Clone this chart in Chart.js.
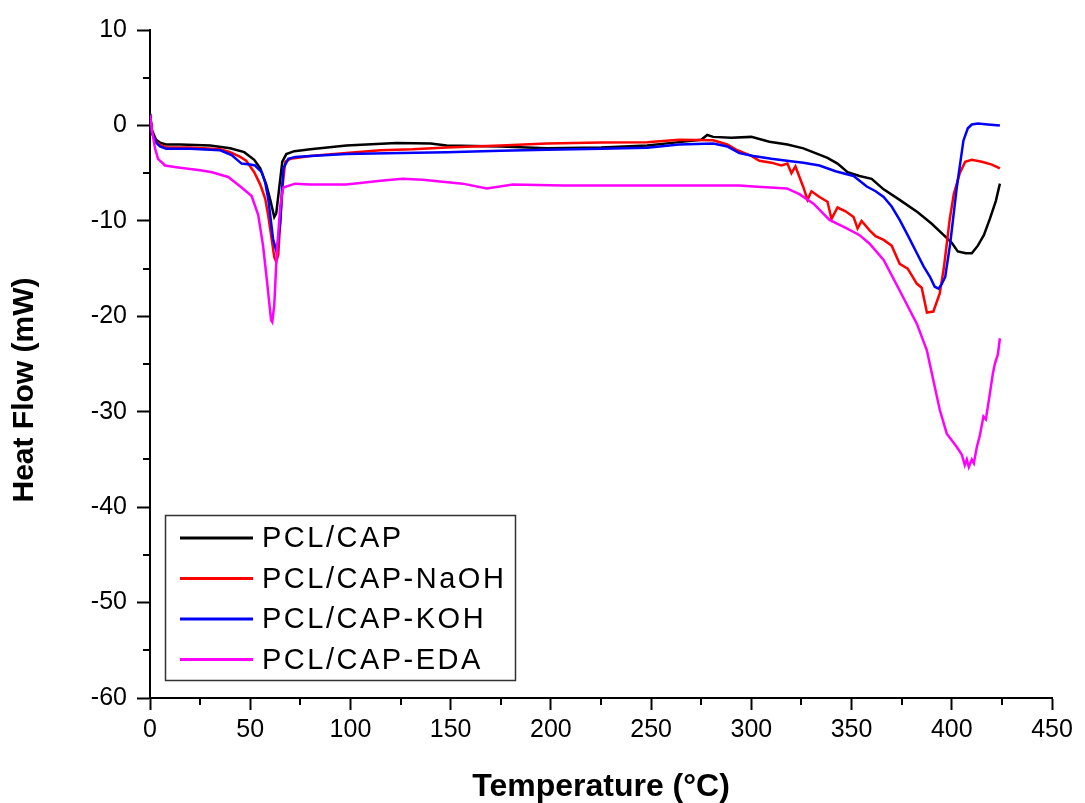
<!DOCTYPE html>
<html>
<head>
<meta charset="utf-8">
<script src="https://cdn.jsdelivr.net/npm/chart.js@4/dist/chart.umd.min.js"></script>
<style>
  html, body { margin: 0; padding: 0; background: #ffffff; }
  #c { display: block; }
</style>
</head>
<body>
<canvas id="c" width="1085" height="803"></canvas>
<script>
// ---- Data: [temperature (°C), heat flow (mW)] ----
const seriesNames = ['PCL/CAP', 'PCL/CAP-NaOH', 'PCL/CAP-KOH', 'PCL/CAP-EDA'];
const seriesColors = ['#000000', '#ff0000', '#0000ff', '#ff00ff'];

const pclCap = [
  [0,1.2],[1,-0.5],[3,-1.5],[5,-1.8],[8,-2.0],[15,-2.0],[30,-2.1],[40,-2.4],[47,-2.8],[52,-3.6],
  [55,-4.5],[58,-6.2],[60,-7.8],[62,-9.6],[63,-9.2],[64.5,-6.5],[66,-3.8],[68,-3.0],[72,-2.7],[80,-2.5],
  [98,-2.1],[123,-1.85],[140,-1.9],[148,-2.1],[175,-2.2],[198,-2.4],[225,-2.3],[248,-2.1],[264,-1.75],[275,-1.5],
  [278,-1.0],[281,-1.2],[290,-1.3],[300,-1.2],[309,-1.7],[318,-2.0],[326,-2.4],[332,-2.9],[338,-3.4],[343,-4.0],
  [348,-4.9],[354,-5.3],[360,-5.6],[366,-6.7],[374,-7.8],[383,-9.1],[390,-10.3],[396,-11.5],[400,-12.3],[403,-13.2],
  [407,-13.4],[410,-13.4],[413,-12.6],[416,-11.5],[419,-9.8],[422,-7.9],[424,-6.1]
];

const pclCapNaOH = [
  [0,1.2],[1,-0.8],[3,-1.7],[5,-2.0],[8,-2.3],[20,-2.3],[35,-2.5],[40,-2.8],[45,-3.3],[48,-3.7],
  [52,-4.9],[55,-6.2],[57.5,-7.7],[59,-9.5],[60.7,-11.9],[62,-13.8],[63,-14.3],[64,-13.5],[65,-10.0],[66,-6.6],
  [67.5,-3.8],[70,-3.5],[80,-3.2],[98,-2.9],[115,-2.6],[131,-2.5],[148,-2.3],[175,-2.1],[198,-1.9],[225,-1.8],
  [248,-1.75],[264,-1.5],[281,-1.55],[288,-2.0],[293,-2.6],[300,-3.2],[304,-3.7],[310,-3.9],[315,-4.2],[318,-4.0],
  [320,-5.0],[322,-4.3],[326,-6.5],[328,-7.8],[330,-6.9],[334,-7.5],[338,-8.0],[340,-9.8],[343,-8.6],[347,-9.0],
  [351,-9.6],[353,-10.8],[355,-10.0],[359,-11.0],[362,-11.6],[366,-12.0],[370,-12.6],[374,-14.5],[378,-15.0],[382.6,-16.6],
  [385,-17.0],[387.6,-19.6],[390.8,-19.5],[394,-17.6],[396,-15.0],[397.5,-12.4],[399,-9.8],[401,-7.2],[404,-5.0],[406.7,-3.8],
  [410,-3.6],[415,-3.8],[420,-4.1],[424,-4.5]
];

const pclCapKOH = [
  [0,1.2],[1,-0.8],[3,-1.8],[5,-2.2],[8,-2.45],[20,-2.45],[35,-2.6],[40.7,-3.1],[45.7,-4.0],[50,-4.1],
  [52.4,-4.2],[55.7,-4.9],[57.5,-6.0],[59,-7.7],[61.4,-11.9],[63.2,-13.3],[65,-10.1],[66.5,-4.5],[69,-3.5],[72.4,-3.3],
  [80,-3.2],[98,-3.0],[125,-2.9],[148,-2.8],[175,-2.65],[198,-2.55],[225,-2.45],[248,-2.35],[264,-2.0],[281,-1.9],
  [288,-2.2],[294,-2.9],[301,-3.2],[310,-3.5],[317.7,-3.7],[326,-3.9],[334,-4.2],[342,-4.8],[351,-5.3],[357.6,-6.4],
  [362,-6.9],[366,-7.5],[370,-8.5],[374,-9.9],[378,-11.5],[382.6,-13.4],[386,-14.8],[389.2,-15.9],[391.5,-16.9],[393.4,-17.1],
  [395,-16.6],[396.7,-15.9],[399.2,-12.4],[402.5,-6.5],[405.8,-1.6],[408,-0.3],[410,0.1],[413,0.2],[418,0.1],[424,0.0]
];

const pclCapEDA = [
  [0,1.1],[1,-0.5],[2.5,-2.4],[4,-3.5],[7.5,-4.2],[14,-4.4],[25,-4.7],[31,-4.9],[39,-5.4],[45.7,-6.5],
  [50.7,-7.4],[54,-9.4],[56.4,-12.6],[58.2,-16.0],[60.4,-20.4],[61,-20.6],[62,-18.8],[63.2,-13.6],[65,-8.4],[66.5,-6.5],
  [72.4,-6.1],[80,-6.2],[98,-6.2],[115,-5.8],[126,-5.6],[136,-5.7],[156,-6.1],[168,-6.6],[181,-6.2],[206,-6.3],
  [250,-6.3],[294,-6.3],[301,-6.4],[317.7,-6.6],[324,-7.2],[331,-8.2],[339,-9.9],[347.6,-10.8],[354,-11.5],[359,-12.4],
  [366,-14.1],[374,-17.3],[382.6,-20.8],[387.6,-23.6],[390.8,-26.7],[394,-29.8],[397.5,-32.3],[402.5,-33.7],[405,-34.5],[406.5,-35.6],
  [407.5,-35.0],[408.5,-35.8],[410,-35.0],[411,-35.4],[412.5,-33.7],[414,-32.5],[415.8,-30.5],[417,-30.8],[419,-28.1],[420.5,-26.0],
  [421.6,-24.9],[423,-24.0],[424,-22.3]
];

const seriesData = [pclCap, pclCapNaOH, pclCapKOH, pclCapEDA];

// Axis settings
const xMin = 0, xMax = 450, xMajor = 50, xMinor = 25;
const yMin = -60, yMax = 10, yMajor = 10, yMinor = 5;
const xTitle = 'Temperature (°C)';
const yTitle = 'Heat Flow (mW)';

const FONT = '"Liberation Sans", Arial, sans-serif';

// Minor ticks plugin (uses the library's scales)
const minorTicks = {
  id: 'minorTicks',
  afterDraw(chart) {
    const ctx = chart.ctx;
    const xs = chart.scales.x, ys = chart.scales.y;
    ctx.save();
    ctx.strokeStyle = '#000';
    ctx.lineWidth = 2;
    ctx.beginPath();
    for (let v = xMin + xMinor; v < xMax; v += xMajor) {
      const px = Math.round(xs.getPixelForValue(v));
      ctx.moveTo(px, ys.bottom);
      ctx.lineTo(px, ys.bottom + 7);
    }
    for (let v = yMin + yMinor; v < yMax; v += yMajor) {
      const py = Math.round(ys.getPixelForValue(v));
      ctx.moveTo(xs.left, py);
      ctx.lineTo(xs.left - 7, py);
    }
    ctx.stroke();
    ctx.restore();
  }
};

// Y-axis title, placed as in the reference (slightly below the axis centre)
const yAxisTitle = {
  id: 'yAxisTitle',
  afterDraw(chart) {
    const ctx = chart.ctx;
    const ys = chart.scales.y;
    const cy = (ys.top + ys.bottom) / 2 + 26;
    ctx.save();
    ctx.translate(25, cy);
    ctx.rotate(-Math.PI / 2);
    ctx.font = 'bold 30px ' + FONT;
    ctx.fillStyle = '#000';
    ctx.textAlign = 'center';
    ctx.textBaseline = 'middle';
    ctx.fillText(yTitle, 0, 0);
    ctx.restore();
  }
};

// Legend drawn inside the plot area (lower-left)
const insideLegend = {
  id: 'insideLegend',
  afterDraw(chart) {
    const ctx = chart.ctx;
    const a = chart.chartArea;
    const bx = a.left + 15, bw = 350, bh = 165;
    const by = a.bottom - 18 - bh;
    ctx.save();
    ctx.strokeStyle = '#333';
    ctx.lineWidth = 1.5;
    ctx.strokeRect(bx + 0.5, by + 0.5, bw, bh);
    ctx.font = '29px ' + FONT;
    if ('letterSpacing' in ctx) ctx.letterSpacing = '2.5px';
    ctx.textBaseline = 'middle';
    ctx.fillStyle = '#000';
    chart.data.datasets.forEach((ds, i) => {
      const cy = by + 23 + i * 40.5;
      ctx.strokeStyle = ds.borderColor;
      ctx.lineWidth = 3;
      ctx.beginPath();
      ctx.moveTo(bx + 15, cy);
      ctx.lineTo(bx + 88, cy);
      ctx.stroke();
      ctx.fillText(ds.label, bx + 97, cy + 1);
    });
    ctx.restore();
  }
};

const datasets = seriesNames.map((name, i) => ({
  label: name,
  data: seriesData[i].map(p => ({ x: p[0], y: p[1] })),
  borderColor: seriesColors[i],
  backgroundColor: seriesColors[i],
  borderWidth: 2.5,
  pointRadius: 0,
  tension: 0,
  fill: false,
  order: 4 - i
}));

new Chart(document.getElementById('c'), {
  type: 'line',
  data: { datasets },
  options: {
    responsive: false,
    animation: false,
    devicePixelRatio: 1,
    layout: { padding: { top: 30, right: 33, left: 0, bottom: 0 } },
    plugins: {
      legend: { display: false },
      tooltip: { enabled: false }
    },
    scales: {
      x: {
        type: 'linear',
        min: xMin, max: xMax,
        afterFit: s => { s.height = 105; },
        ticks: { stepSize: xMajor, color: '#000', font: { family: FONT, size: 25 }, padding: 5, maxRotation: 0 },
        grid: { drawOnChartArea: false, drawTicks: true, tickLength: 12, tickWidth: 2, tickColor: '#000' },
        border: { display: true, color: '#000', width: 2 },
        title: { display: true, text: xTitle, color: '#000', font: { family: FONT, size: 32, weight: 'bold', lineHeight: 1 }, padding: { top: 0, bottom: 0 } }
      },
      y: {
        type: 'linear',
        min: yMin, max: yMax,
        afterFit: s => { s.width = 150; },
        ticks: { stepSize: yMajor, color: '#000', font: { family: FONT, size: 25 }, padding: 10 },
        grid: { drawOnChartArea: false, drawTicks: true, tickLength: 13, tickWidth: 2, tickColor: '#000' },
        border: { display: true, color: '#000', width: 2 },
        title: { display: false }
      }
    }
  },
  plugins: [minorTicks, yAxisTitle, insideLegend]
});
</script>
</body>
</html>
